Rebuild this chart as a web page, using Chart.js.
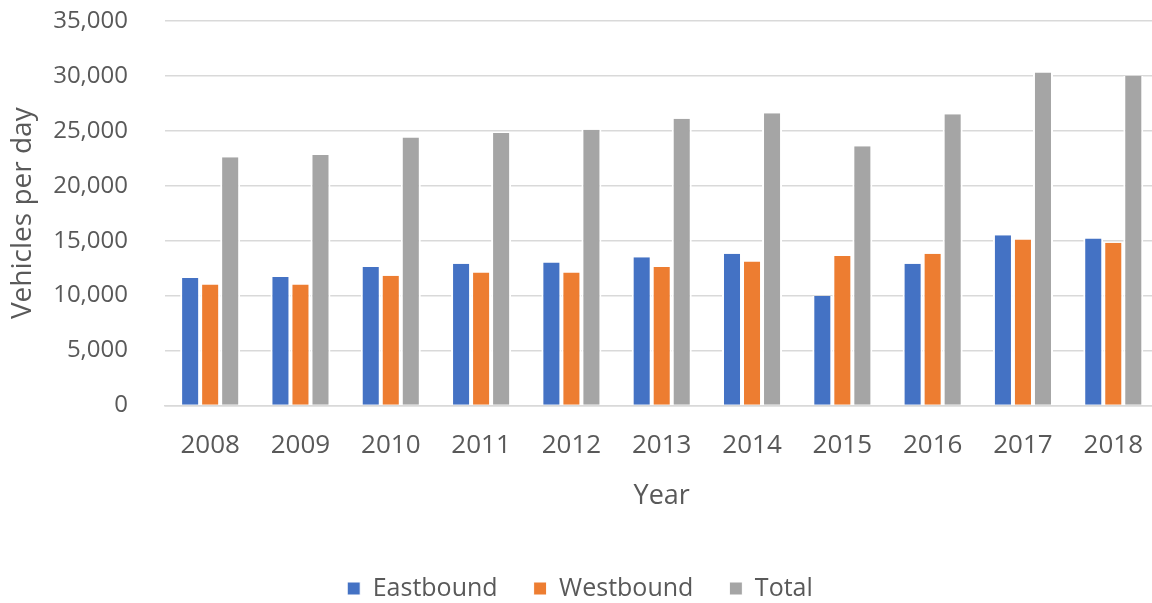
<!DOCTYPE html>
<html>
  <head>
    <title>Vehicles per day</title>
    <meta charset="UTF-8" />
    <style>
      body { margin: 0; overflow: hidden; background: #ffffff; }
    </style>
  </head>
  <body>
    <canvas id="myChart" width="1160" height="603"></canvas>
    <script src="https://cdn.jsdelivr.net/npm/chart.js@4"></script>
    <script>
    var years = ['2008', '2009', '2010', '2011', '2012', '2013', '2014', '2015', '2016', '2017', '2018'];
    var eastbound = [11600, 11700, 12600, 12900, 13000, 13500, 13800, 9950, 12900, 15500, 15200];
    var westbound = [11000, 11000, 11800, 12100, 12100, 12600, 13100, 13600, 13800, 15100, 14800];
    var total = [22600, 22800, 24400, 24800, 25100, 26100, 26600, 23600, 26500, 30300, 30000];

    var textColor = '#595959';
    var fontName = '"Open Sans", sans-serif';

    function barSet(label, color, values) {
      return {
        label: label,
        data: values,
        backgroundColor: color,
        borderColor: '#ffffff',
        borderWidth: {left: 2, right: 2, top: 0, bottom: 0},
        borderSkipped: false,
        barPercentage: 1,
        categoryPercentage: 0.665
      };
    }

    var config = {
      type: 'bar',
      data: {
        labels: years,
        datasets: [
          barSet('Eastbound', '#4472C4', eastbound),
          barSet('Westbound', '#ED7D31', westbound),
          barSet('Total', '#A5A5A5', total)
        ]
      },
      options: {
        responsive: false,
        animation: false,
        layout: { padding: { top: 21, left: 0, right: 0, bottom: -8 } },
        plugins: {
          tooltip: { enabled: false },
          legend: {
            position: 'bottom',
            labels: {
              color: textColor,
              font: { family: fontName, size: 25 },
              boxWidth: 13,
              boxHeight: 13,
              padding: 36
            }
          }
        },
        scales: {
          x: {
            grid: { display: false },
            border: { color: '#D9D9D9', width: 1.5 },
            ticks: { color: textColor, font: { family: fontName, size: 26 }, padding: 17 },
            title: {
              display: true,
              text: 'Year',
              color: textColor,
              font: { family: fontName, size: 27 },
              padding: { top: 2, bottom: 27 }
            }
          },
          y: {
            min: 0,
            max: 35000,
            ticks: {
              stepSize: 5000,
              color: textColor,
              font: { family: fontName, size: 24 },
              padding: 0,
              callback: function (v) { return v.toLocaleString('en-US'); }
            },
            // invisible tick marks keep the gap between labels and plot
            grid: { color: '#D9D9D9', lineWidth: 1.5, drawTicks: true, tickLength: 37, tickColor: 'rgba(0,0,0,0)' },
            border: { display: false },
            title: {
              display: true,
              text: 'Vehicles per day',
              color: textColor,
              font: { family: fontName, size: 28 },
              padding: { top: 6, bottom: 0 }
            },
            afterFit: function (scale) { scale.width = 165; }
          }
        }
      }
    };

    var myChart = new Chart(document.getElementById('myChart'), config);
    </script>
  </body>
</html>
